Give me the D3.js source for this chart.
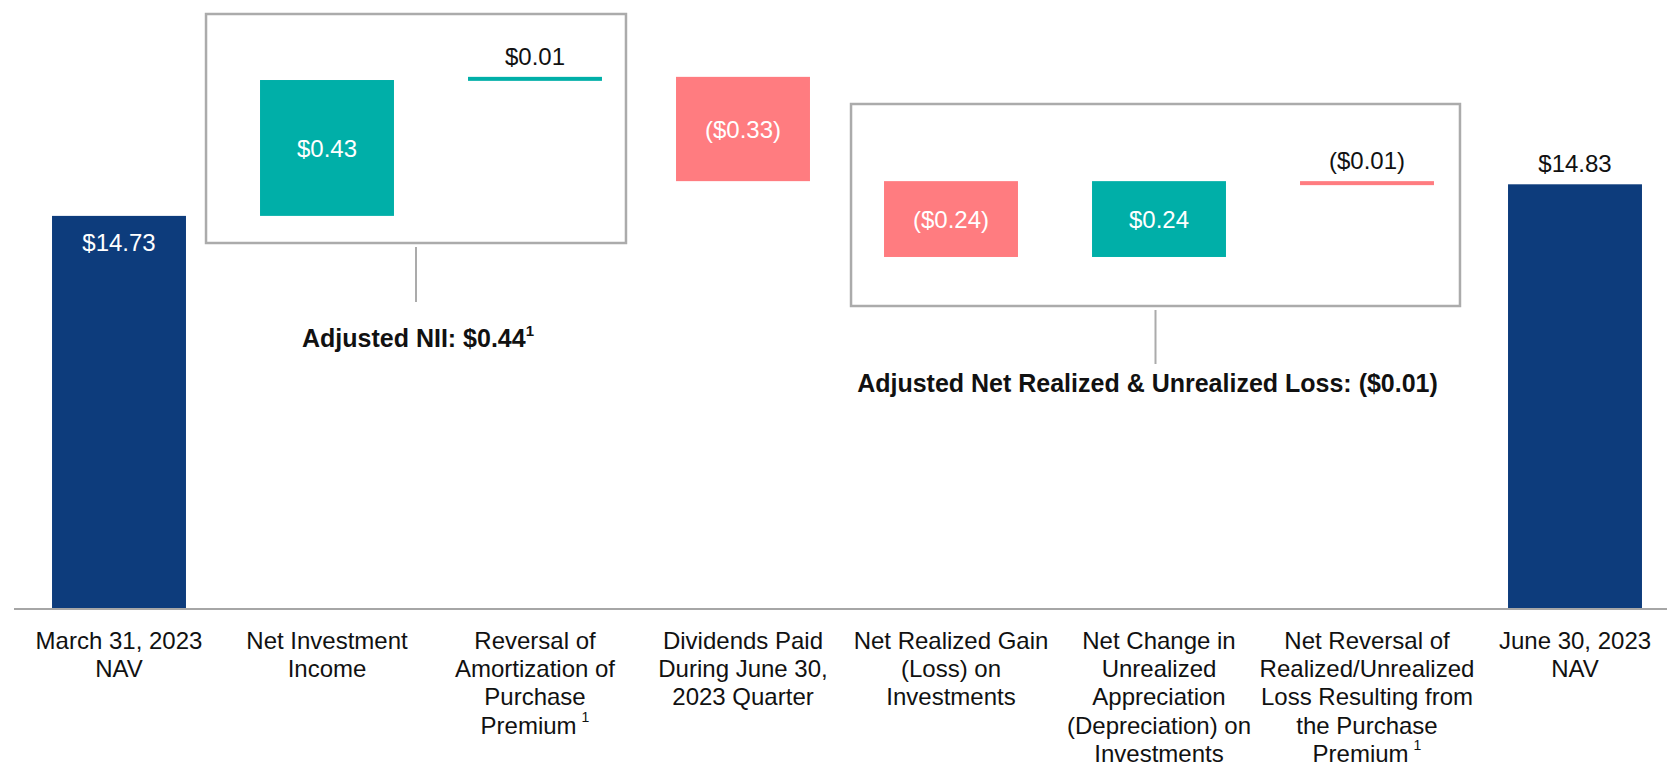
<!DOCTYPE html>
<html>
<head>
<meta charset="utf-8">
<script src="https://cdn.jsdelivr.net/npm/d3@7"></script>
<style>
  body { margin: 0; background: #fff; }
  text { font-family: "Liberation Sans", Arial, sans-serif; }
</style>
</head>
<body>
<div id="chart"></div>
<script>
// Datos
const categories = ["start", "nii", "amort", "div", "realized", "unrealized", "netrev", "end"]
const catLines = [
    ["March 31, 2023", "NAV"],
    ["Net Investment", "Income"],
    ["Reversal of", "Amortization of", "Purchase", "Premium"],
    ["Dividends Paid", "During June 30,", "2023 Quarter"],
    ["Net Realized Gain", "(Loss) on", "Investments"],
    ["Net Change in", "Unrealized", "Appreciation", "(Depreciation) on", "Investments"],
    ["Net Reversal of", "Realized/Unrealized", "Loss Resulting from", "the Purchase", "Premium"],
    ["June 30, 2023", "NAV"]
]
const footnoteCats = ["amort", "netrev"]
const startNav = 14.73
const changes = [0.43, 0.01, -0.33, -0.24, 0.24, -0.01]
const endNav = 14.83
const valueLabels = ["$14.73", "$0.43", "$0.01", "($0.33)", "($0.24)", "$0.24", "($0.01)", "$14.83"]
const labelInside = [true, true, false, true, true, true, false, false]
const groupLabels = [
    { text: "Adjusted NII: $0.44", sup: "1" },
    { text: "Adjusted Net Realized & Unrealized Loss: ($0.01)", sup: "" }
]

//Constantes
const width = 1667
const height = 766
const baseY = 609
const colors = { total: "#0d3c7c", up: "#00afa8", down: "#ff7c80" }

// construir barras
let running = startNav
const bars = [{ cat: categories[0], y0: 0, y1: startNav, type: "total" }]
changes.forEach((c, i) => {
    const prev = running
    running = +(running + c).toFixed(2)
    bars.push({ cat: categories[i + 1], y0: prev, y1: running, type: c >= 0 ? "up" : "down" })
})
bars.push({ cat: categories[7], y0: 0, y1: endNav, type: "total" })
bars.forEach((b, i) => { b.label = valueLabels[i]; b.inside = labelInside[i] })

const svg = d3.select("#chart")
    .append("svg")
    .attr("width", width)
    .attr("height", height)

//Escalas
const x = d3.scaleBand().domain(categories).range([15, 1679]).paddingInner(0.356).paddingOuter(0.178)
const yFloor = 13.486
const y = d3.scaleLinear().domain([yFloor, 15.4]).range([baseY, baseY - (15.4 - yFloor) * 316])

const barTop = b => b.type === "total" ? y(b.y1) : y(Math.max(b.y0, b.y1))
const barBottom = b => b.type === "total" ? baseY : y(Math.min(b.y0, b.y1))
const barH = b => Math.max(4, barBottom(b) - barTop(b))

// Cajas de agrupacion
const boxes = [
    { from: "nii", to: "amort", padL: 54, padR: 24, top: 14, bottom: 243, lineTo: 302, labelY: 347 },
    { from: "realized", to: "netrev", padL: 33, padR: 26, top: 104, bottom: 306, lineTo: 364, labelY: 392 }
]
const boxGroup = svg.append("g")
boxes.forEach((bx, i) => {
    const x0 = x(bx.from) - bx.padL
    const x1 = x(bx.to) + x.bandwidth() + bx.padR
    const mid = (x0 + x1) / 2
    boxGroup.append("rect")
        .attr("x", x0).attr("y", bx.top)
        .attr("width", x1 - x0).attr("height", bx.bottom - bx.top)
        .attr("fill", "none").attr("stroke", "#ababab").attr("stroke-width", 2.5)
    boxGroup.append("line")
        .attr("x1", mid).attr("x2", mid)
        .attr("y1", bx.bottom + 4).attr("y2", bx.lineTo)
        .attr("stroke", "#ababab").attr("stroke-width", 2)
    const t = boxGroup.append("text")
        .attr("x", i == 0 ? mid + 2 : mid - 8).attr("y", bx.labelY)
        .attr("text-anchor", "middle")
        .attr("font-size", 25).attr("font-weight", "bold").attr("fill", "#111")
    t.append("tspan").text(groupLabels[i].text)
    if (groupLabels[i].sup) {
        t.append("tspan").attr("font-size", 15).attr("dy", -11).text(groupLabels[i].sup)
    }
})

// Barras
const barGroup = svg.append("g")
barGroup.selectAll("rect")
    .data(bars)
    .enter()
    .append("rect")
    .attr("x", d => x(d.cat))
    .attr("y", d => barTop(d))
    .attr("width", x.bandwidth())
    .attr("height", d => barH(d))
    .attr("fill", d => colors[d.type])

barGroup.selectAll("text")
    .data(bars)
    .enter()
    .append("text")
    .attr("x", d => x(d.cat) + x.bandwidth() / 2)
    .attr("y", d => d.inside ? (d.type === "total" ? barTop(d) + 35 : barTop(d) + barH(d) / 2 + 9) : barTop(d) - 12)
    .attr("text-anchor", "middle")
    .attr("font-size", 24)
    .attr("fill", d => d.inside ? "#fff" : "#111")
    .text(d => d.label)

// Eje
const xAxis = d3.axisBottom(x).tickSize(0).tickFormat("")
const xAxisGroup = svg.append("g")
    .attr("transform", `translate(0, ${baseY})`)
    .call(xAxis)
xAxisGroup.select(".domain").attr("stroke", "#a6a6a6").attr("stroke-width", 2)
    .attr("d", `M14,0H${width}`)

const catText = xAxisGroup.selectAll(".tick")
    .append("text")
    .attr("text-anchor", "middle")
    .attr("font-size", 24)
    .attr("fill", "#111")
catText.each(function(d, i) {
    const el = d3.select(this)
    const lines = catLines[i]
    lines.forEach((ln, j) => {
        el.append("tspan").attr("x", 0).attr("y", 40 + j * 28.2).text(ln)
    })
    if (footnoteCats.includes(d)) {
        el.append("tspan").attr("font-size", 14).attr("dx", 5).attr("dy", -12).text("1")
    }
})
</script>
</body>
</html>
